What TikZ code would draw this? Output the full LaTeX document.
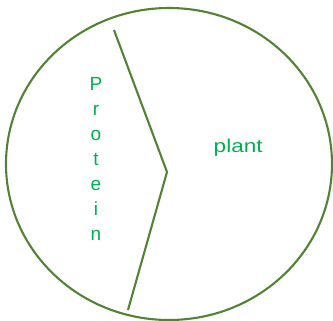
\documentclass[tikz,border=0pt]{standalone}
\usepackage{fontspec}
\setmainfont{Liberation Sans}
\definecolor{rimgreen}{HTML}{548235}
\definecolor{textgreen}{HTML}{00B050}

\begin{document}
\begin{tikzpicture}[
  x=1pt, y=-1pt,
  rim/.style = {draw=rimgreen, line width=2.1pt},
  letter/.style = {text=textgreen, anchor=base, inner sep=0pt,
    font=\fontsize{19}{22}\selectfont}
]
  \useasboundingbox (0,0) rectangle (333,321);

  % Umriss
  \draw[rim] (169,164) ellipse [x radius=163, y radius=156];

  % Trennlinie
  \coordinate (top) at (114,30);
  \coordinate (tip) at (167,172);
  \coordinate (bot) at (128,310);
  \draw[rim, line join=miter] (top) -- (tip) -- (bot);

  % Beschriftungen
  \foreach \ch [count=\i from 0] in {P,r,o,t,e,i,n}
    \node[letter] (prot\i) at (96, 90.5+\i*25) {\ch};
  \node[letter, anchor=base west, xscale=1.22, font=\fontsize{18.5}{22}\selectfont] (plant) at (213.5,153) {plant};
\end{tikzpicture}
\end{document}
